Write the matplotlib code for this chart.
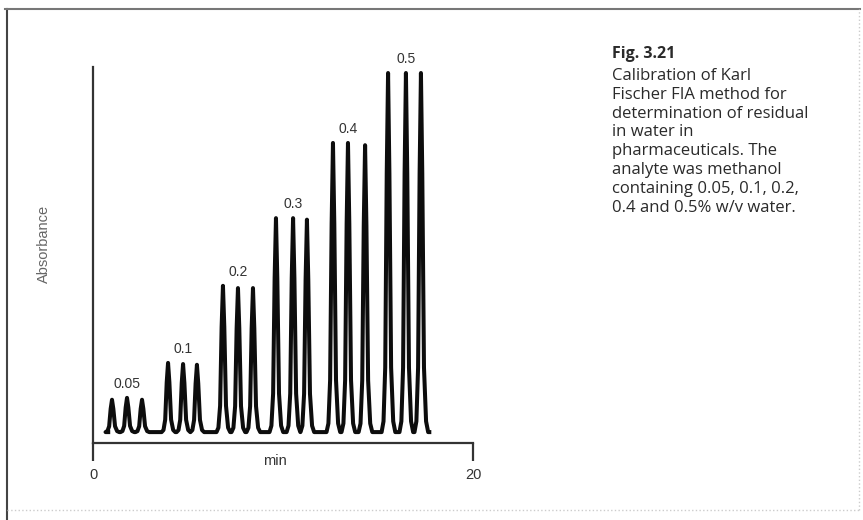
import numpy as np
import matplotlib
matplotlib.use("Agg")
import matplotlib.pyplot as plt
from matplotlib.lines import Line2D

# water content of each standard (% w/v), three injections each
concentrations = ["0.05", "0.1", "0.2", "0.3", "0.4", "0.5"]
peak_times = [
    [1.00, 1.79, 2.58],
    [3.95, 4.74, 5.47],
    [6.84, 7.63, 8.42],
    [9.63, 10.53, 11.26],
    [12.63, 13.42, 14.32],
    [15.53, 16.47, 17.26],
]
peak_heights = [
    [0.115, 0.120, 0.115],
    [0.213, 0.210, 0.208],
    [0.418, 0.412, 0.412],
    [0.598, 0.598, 0.594],
    [0.798, 0.798, 0.792],
    [0.984, 0.984, 0.984],
]
baseline = 0.029
trace_start, trace_end = 0.8, 17.7

caption_title = "Fig. 3.21"
caption_lines = [
    "Calibration of Karl",
    "Fischer FIA method for",
    "determination of residual",
    "in water in",
    "pharmaceuticals. The",
    "analyte was methanol",
    "containing 0.05, 0.1, 0.2,",
    "0.4 and 0.5% w/v water.",
]

# outline of one FIA peak: time offset (min), fraction of peak height
shape_dt = [-0.34, -0.24, -0.15, -0.07, 0.0, 0.07, 0.16, 0.27, 0.38]
shape_fr = [0.0, 0.03, 0.18, 0.72, 1.0, 0.72, 0.18, 0.03, 0.0]

t_pts = [trace_start]
a_pts = [baseline]
for times, heights in zip(peak_times, peak_heights):
    for t, h in zip(times, heights):
        for dt, fr in zip(shape_dt, shape_fr):
            t_pts.append(t + dt)
            a_pts.append(baseline + fr * (h - baseline))
t_pts.append(trace_end)
a_pts.append(baseline)

W, H = 863, 520
fig = plt.figure(figsize=(W / 100, H / 100), dpi=100)
ax = fig.add_axes([93 / W, (H - 443) / H, 380 / W, 376 / H])

ax.plot(t_pts, a_pts, color="#0d0d0d", lw=2.9, solid_joinstyle="round")

for label, times, heights in zip(concentrations, peak_times, peak_heights):
    ax.annotate(label, (times[1], max(heights)), xytext=(0, 10),
                textcoords="offset points", ha="center", va="center",
                fontsize=10, color="#333333", family="Liberation Sans",
                annotation_clip=False)

ax.set_xlim(0, 20)
ax.set_ylim(0, 1)
for side in ["top", "right"]:
    ax.spines[side].set_visible(False)
for side in ["left", "bottom"]:
    ax.spines[side].set_linewidth(1.6)
    ax.spines[side].set_color("#333333")
ax.set_yticks([])
ax.set_xticks([0, 20])
ax.set_xticklabels(["0", "20"], fontsize=10.5, color="#333333",
                   family="Liberation Sans")
ax.tick_params(axis="x", direction="out", length=13, width=1.6,
               color="#333333", pad=5)
ax.set_xlabel("min", fontsize=10.5, color="#333333", family="Liberation Sans")
ax.xaxis.set_label_coords(0.479, -0.03)
ax.set_ylabel("Absorbance", fontsize=10.5, color="#666666",
              family="Liberation Sans")
ax.yaxis.set_label_coords(-0.11, 0.53)

# caption on the right
cap_x = 612 / W
fig.text(cap_x, 1 - 54 / H, caption_title, fontsize=11.5, fontweight="bold",
         family="Open Sans", color="#2a2a2a", va="center")
for i, line in enumerate(caption_lines):
    fig.text(cap_x, 1 - (76 + i * 18.8) / H, line, fontsize=12,
             family="Open Sans", color="#2a2a2a", va="center")

# page frame
fig.add_artist(Line2D([7 / W, 7 / W], [0, 1 - 9 / H], color="#444444", lw=1.5))
fig.add_artist(Line2D([5 / W, 860 / W], [1 - 9 / H, 1 - 9 / H],
                      color="#777777", lw=1.5))
fig.add_artist(Line2D([859 / W, 859 / W], [10 / H, 1 - 9 / H],
                      color="#cccccc", lw=1, ls=":"))
fig.add_artist(Line2D([7 / W, 859 / W], [10 / H, 10 / H],
                      color="#cccccc", lw=1, ls=":"))

fig.savefig("out.png", dpi=100)
